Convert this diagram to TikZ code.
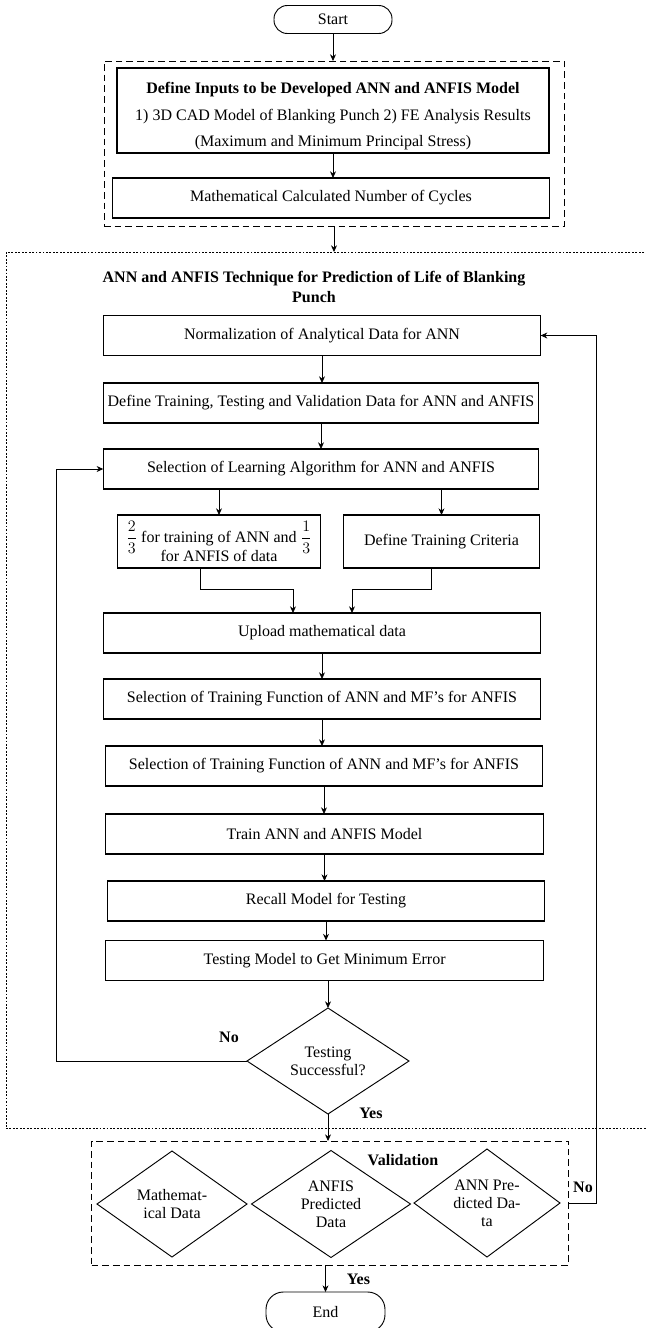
\documentclass[tikz,border=0pt]{standalone}
\usepackage{fontspec}
\setmainfont{Liberation Serif}
\usepackage{amsmath}
\usepackage{tikz}
\usetikzlibrary{shapes.geometric, arrows.meta, positioning, calc}

\begin{document}
\begin{tikzpicture}[
    x=0.75pt, y=-0.75pt,
    font=\fontsize{12pt}{13.5pt}\selectfont,
    process/.style={rectangle, draw, line width=0.8pt, inner sep=2pt, outer sep=0pt, align=center, minimum width=#1, minimum height=30pt},
    process/.default=328pt,
    terminal/.style={rectangle, rounded corners=10pt, draw, line width=0.7pt, outer sep=0pt, minimum width=88.5pt, minimum height=21pt},
    choice/.style={diamond, draw, line width=0.7pt, aspect=1.4, inner sep=0pt, outer sep=0pt, align=center},
    group/.style={rectangle, draw, line width=0.7pt, dash pattern=on 5pt off 3pt, outer sep=0pt},
    region/.style={rectangle, draw, line width=0.5pt, dash pattern=on 1.4pt off 1.2pt, outer sep=0pt},
    tag/.style={font=\fontsize{12pt}{13.5pt}\selectfont\bfseries},
    arrow/.style={-{Stealth[length=5pt, width=4.5pt]}, line width=0.6pt}
]
\useasboundingbox (0,0) rectangle (646,1328);

% Inputs
\node[terminal] (start) at (333,19.5) {Start};
\node[group, minimum width=345pt, minimum height=123.75pt] (inputs) at (334,143.5) {};
\node[process=324pt, minimum height=63.75pt, inner sep=1pt, font=\fontsize{12pt}{20pt}\selectfont] (define) at (333,110.5)
    {\rule{0pt}{17pt}\textbf{Define Inputs to be Developed ANN and ANFIS Model}\\1) 3D CAD Model of Blanking Punch 2) FE Analysis Results\\(Maximum and Minimum Principal Stress)};
\node[process] (cycles) at (331,198) {Mathematical Calculated Number of Cycles};

% ANN / ANFIS block
\node[region, minimum width=520.5pt, minimum height=657pt] (technique) at (353,690) {};
\node[tag, align=center, font=\fontsize{12pt}{15pt}\selectfont\bfseries] (title) at (314,287)
    {ANN and ANFIS Technique for Prediction of Life of Blanking\\Punch};
\node[process] (norm) at (322,335.5) {Normalization of Analytical Data for ANN};
\node[process=326.6pt] (deftrain) at (321,403) {Define Training, Testing and Validation Data for ANN and ANFIS};
\node[process=326.6pt] (learn) at (321,469) {Selection of Learning Algorithm for ANN and ANFIS};
\node[process=152.25pt, minimum height=39.75pt, inner sep=1pt] (frac) at (219,541.5)
    {$\dfrac{2}{3}$ for training of ANN and $\dfrac{1}{3}$\\[-3pt]for ANFIS of data};
\node[process=146.8pt, minimum height=39.75pt] (crit) at (441.5,541.5) {Define Training Criteria};
\node[process] (upload) at (322,633) {Upload mathematical data};
\node[process] (seltf1) at (322,699) {Selection of Training Function of ANN and MF’s for ANFIS};
\node[process] (seltf2) at (324,766) {Selection of Training Function of ANN and MF’s for ANFIS};
\node[process] (train) at (324.5,834) {Train ANN and ANFIS Model};
\node[process] (recall) at (326,901) {Recall Model for Testing};
\node[process] (testmodel) at (324.6,960.5) {Testing Model to Get Minimum Error};
\node[choice, minimum width=121.5pt, minimum height=79.5pt] (decision) at (328,1061) {Testing\\Successful?};

% Validation
\node[group, minimum width=357.75pt, minimum height=93pt] (valid) at (330,1203) {};
\node[tag] (vallabel) at (403,1160) {Validation};
\node[choice, minimum width=112.5pt, minimum height=79.5pt] (mathdata) at (172,1204) {Mathemat-\\ical Data};
\node[choice, minimum width=119.25pt, minimum height=80.25pt] (anfisdata) at (331,1204) {ANFIS\\Predicted\\Data};
\node[choice, minimum width=109.5pt, minimum height=81pt] (anndata) at (487,1203) {ANN Pre-\\dicted Da-\\ta};
\node[terminal, rounded corners=13pt, minimum width=89.25pt, minimum height=30pt] (end) at (325.5,1312) {End};

% Labels
\node[tag] (no1) at (229,1037) {No};
\node[tag] (yes1) at (371,1113) {Yes};
\node[tag] (no2) at (583,1187) {No};
\node[tag] (yes2) at (358.5,1279) {Yes};

% Links
\draw[arrow] (start) -- (start |- inputs.north);
\draw[arrow] (define) -- (define |- cycles.north);
\draw[arrow] (inputs.south) -- (inputs.south |- technique.north);
\draw[arrow] (norm) -- (norm |- deftrain.north);
\draw[arrow] (deftrain) -- (deftrain |- learn.north);
\draw[arrow] (frac.north |- learn.south) -- (frac.north);
\draw[arrow] (crit.north |- learn.south) -- (crit.north);
\draw[arrow] ($(frac.south)+(-19,0)$) -- ++(0,21) -| ($(upload.north)+(-29,0)$);
\draw[arrow] ($(crit.south)+(-10.5,0)$) -- ++(0,21) -| ($(upload.north)+(30,0)$);
\draw[arrow] (upload) -- (upload |- seltf1.north);
\draw[arrow] (seltf1) -- (seltf1 |- seltf2.north);
\draw[arrow] (seltf2) -- (seltf2 |- train.north);
\draw[arrow] (train) -- (train |- recall.north);
\draw[arrow] (recall) -- (recall |- testmodel.north);
\draw[arrow] (decision.north |- testmodel.south) -- (decision.north);
\draw[arrow] (decision) -- (decision |- valid.north);
\draw[arrow] (end |- valid.south) -- (end);

% Loops back
\draw[arrow] (decision.west) -- ++(-190.5,0) |- (learn.west);
\draw[arrow] (valid.east) -- ++(28,0) |- (norm.east);

\end{tikzpicture}
\end{document}
